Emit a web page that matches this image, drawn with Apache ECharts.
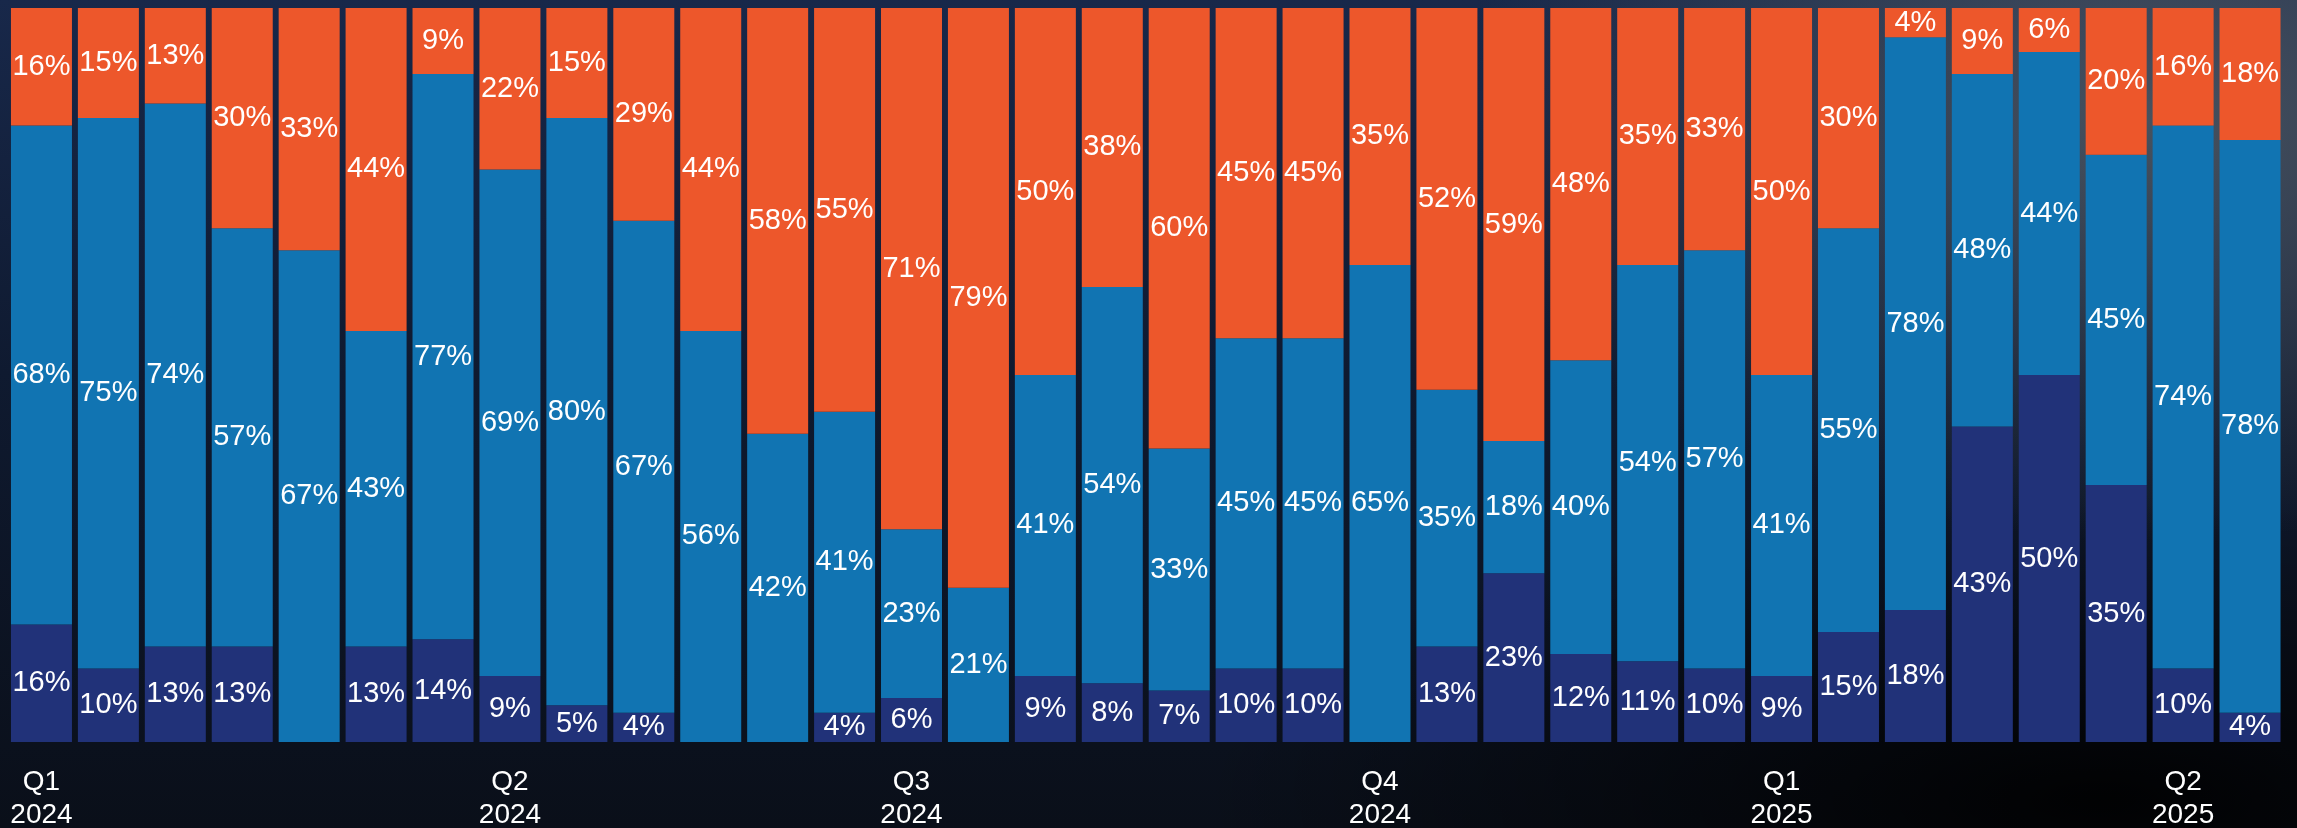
<!DOCTYPE html>
<html>
<head>
<meta charset="utf-8">
<script src="https://cdn.jsdelivr.net/npm/echarts@6/dist/echarts.min.js"></script>
<style>
html,body{margin:0;padding:0;width:2297px;height:828px;overflow:hidden;}
body{
  background:
    radial-gradient(ellipse 700px 420px at 2150px 120px, rgba(80,90,100,0.85), rgba(80,90,100,0) 100%),
    radial-gradient(ellipse 900px 300px at 2100px 800px, rgba(0,0,0,0.9), rgba(0,0,0,0) 100%),
    linear-gradient(180deg, #18284a 0%, #0f1a30 45%, #0a0f19 100%);
}
#chart{width:2297px;height:828px;}
</style>
</head>
<body>
<div id="chart"></div>
<script>
// Tick labels (one entry per bar; blank where no label is shown)
var tickLabels = [
  "Q1\n2024","","","","","","","Q2\n2024","","","","","","Q3\n2024","","","","","","","Q4\n2024","","","","","","Q1\n2025","","","","","","Q2\n2025",""
];
var categories = tickLabels.map(function(t, i){ return "P" + (i + 1); });

// Series values (%), bottom to top
var seriesBottom = [16,10,13,13,0,13,14,9,5,4,0,0,4,6,0,9,8,7,10,10,0,13,23,12,11,10,9,15,18,43,50,35,10,4];
var seriesMiddle = [68,75,74,57,67,43,77,69,80,67,56,42,41,23,21,41,54,33,45,45,65,35,18,40,54,57,41,55,78,48,44,45,74,78];
var seriesTop    = [16,15,13,30,33,44,9,22,15,29,44,58,55,71,79,50,38,60,45,45,35,52,59,48,35,33,50,30,4,9,6,20,16,18];

var colBottom = '#213279';
var colMiddle = '#1174b2';
var colTop = '#ed572b';

var labelStyle = {
  show: true,
  position: 'inside',
  color: '#ffffff',
  fontFamily: 'Liberation Sans, Arial, sans-serif',
  fontSize: 29,
  formatter: function(p){ return p.value ? p.value + '%' : ''; }
};

function mk(name, data, color){
  return {
    name: name,
    type: 'bar',
    stack: 'total',
    data: data,
    barWidth: 61,
    itemStyle: { color: color },
    label: labelStyle,
    emphasis: { disabled: true }
  };
}

var chart = echarts.init(document.getElementById('chart'), null, {renderer: 'canvas'});
chart.setOption({
  backgroundColor: 'transparent',
  animation: false,
  grid: { left: 8, right: 13.5, top: 8, bottom: 86, containLabel: false, outerBoundsMode: 'none' },
  xAxis: {
    type: 'category',
    data: categories,
    axisLine: { show: false },
    axisTick: { show: false },
    axisLabel: {
      interval: 0,
      margin: 24,
      color: '#ffffff',
      fontFamily: 'Liberation Sans, Arial, sans-serif',
      fontSize: 28,
      lineHeight: 33,
      formatter: function(v, i){ return tickLabels[i]; }
    }
  },
  yAxis: {
    type: 'value',
    min: 0,
    max: 100,
    show: false,
    splitLine: { show: false }
  },
  series: [
    mk('Bottom', seriesBottom, colBottom),
    mk('Middle', seriesMiddle, colMiddle),
    mk('Top', seriesTop, colTop)
  ]
});
</script>
</body>
</html>
